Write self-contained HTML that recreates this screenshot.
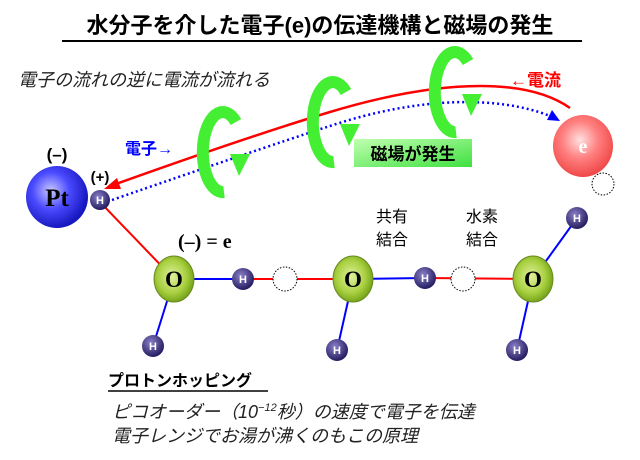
<!DOCTYPE html>
<html><head><meta charset="utf-8"><style>
html,body{margin:0;padding:0;background:#fff;}
svg{display:block;}
text{font-family:"Liberation Sans","Noto Sans CJK JP",sans-serif;}
text.s{font-family:"Liberation Serif","Noto Serif CJK SC",serif;}
</style></head><body>
<svg width="640" height="460" viewBox="0 0 640 460" xmlns="http://www.w3.org/2000/svg">
<defs>
<radialGradient id="pt" cx="0.4" cy="0.4" r="0.6"><stop offset="0" stop-color="#c8c8ff"/><stop offset="0.5" stop-color="#4a4aff"/><stop offset="1" stop-color="#1818c0"/></radialGradient>
<radialGradient id="h" cx="0.4" cy="0.35" r="0.65"><stop offset="0" stop-color="#8a80c8"/><stop offset="1" stop-color="#241c60"/></radialGradient>
<radialGradient id="o" cx="0.45" cy="0.45" r="0.6"><stop offset="0" stop-color="#e0f0a0"/><stop offset="0.6" stop-color="#a8d040"/><stop offset="1" stop-color="#6a9a10"/></radialGradient>
<radialGradient id="e" cx="0.45" cy="0.4" r="0.6"><stop offset="0" stop-color="#ffe0e0"/><stop offset="0.5" stop-color="#ff8080"/><stop offset="1" stop-color="#f04848"/></radialGradient>
<linearGradient id="box" x1="0" y1="0" x2="1" y2="1"><stop offset="0" stop-color="#c0ffb0"/><stop offset="1" stop-color="#40e040"/></linearGradient>
<g id="ring">
<path d="M 12 -30 A 20 40 0 1 0 0 40" fill="none" stroke="#44ee33" stroke-width="12"/>
<polygon points="6,2 26,2 15,24" fill="#44ee33"/>
</g>
</defs>
<text x="320" y="33" font-size="22" font-weight="bold" text-anchor="middle" fill="#000">水分子を介した電子(e)の伝達機構と磁場の発生</text>
<line x1="62" y1="41" x2="582" y2="41" stroke="#000" stroke-width="2"/>
<text x="18" y="86" font-size="18" font-style="italic" fill="#222">電子の流れの逆に電流が流れる</text>
<text x="510" y="86" font-size="17" font-weight="bold" fill="#f00">←電流</text>
<text x="125" y="154" font-size="16" font-weight="bold" fill="#00f">電子→</text>
<!-- current line -->
<path d="M 570 108 C 530 80 450 76 330 112 Q 250 136 116 184" fill="none" stroke="#f00" stroke-width="2.5"/>
<polygon points="104,189 117,178 121,189" fill="#f00"/>
<path d="M 112 200 Q 250 152 330 126 C 420 96 500 96 550 116" fill="none" stroke="#00f" stroke-width="2.5" stroke-dasharray="2,3"/>
<polygon points="560,121 547,120 552,110" fill="#00f"/>
<!-- rings -->
<use href="#ring" x="224" y="152"/>
<use href="#ring" x="334" y="122"/>
<use href="#ring" x="456" y="92"/>
<rect x="354" y="139" width="118" height="28" fill="url(#box)"/>
<text x="413" y="160" font-size="17" font-weight="bold" text-anchor="middle">磁場が発生</text>
<!-- e -->
<ellipse cx="583" cy="146" rx="30" ry="31" fill="url(#e)"/>
<text class="s" x="583" y="153" font-size="20" font-weight="bold" fill="#fff" text-anchor="middle">e</text>
<circle cx="603" cy="184" r="11" fill="none" stroke="#000" stroke-dasharray="1.5,1.5"/>
<!-- bonds -->
<line x1="100" y1="202" x2="174" y2="279" stroke="#f00" stroke-width="2"/>
<line x1="174" y1="279" x2="243" y2="279" stroke="#00f" stroke-width="2"/>
<line x1="243" y1="279" x2="353" y2="279" stroke="#f00" stroke-width="2"/>
<line x1="353" y1="279" x2="425" y2="278" stroke="#00f" stroke-width="2"/>
<line x1="425" y1="278" x2="533" y2="279" stroke="#f00" stroke-width="2"/>
<line x1="174" y1="279" x2="153" y2="346" stroke="#00f" stroke-width="2"/>
<line x1="353" y1="279" x2="337" y2="350" stroke="#00f" stroke-width="2"/>
<line x1="533" y1="279" x2="517" y2="350" stroke="#00f" stroke-width="2"/>
<line x1="533" y1="279" x2="577" y2="218" stroke="#00f" stroke-width="2"/>
<circle cx="285" cy="279" r="12" fill="#fff" stroke="#000" stroke-dasharray="1.5,1.5"/>
<circle cx="463" cy="279" r="12" fill="#fff" stroke="#000" stroke-dasharray="1.5,1.5"/>
<!-- Pt -->
<circle cx="57" cy="197" r="31" fill="url(#pt)"/>
<text class="s" x="57" y="206" font-size="25" font-weight="bold" text-anchor="middle">Pt</text>
<text x="57" y="160" font-size="17" font-weight="bold" text-anchor="middle">(–)</text>
<text x="100" y="182" font-size="15" font-weight="bold" text-anchor="middle">(+)</text>
<!-- O atoms -->
<ellipse cx="174" cy="279" rx="20" ry="23" fill="url(#o)" stroke="#6a8a20"/>
<ellipse cx="353" cy="279" rx="20" ry="23" fill="url(#o)" stroke="#6a8a20"/>
<ellipse cx="533" cy="279" rx="20" ry="23" fill="url(#o)" stroke="#6a8a20"/>
<text class="s" x="174" y="287" font-size="23" font-weight="bold" text-anchor="middle">O</text>
<text class="s" x="353" y="287" font-size="23" font-weight="bold" text-anchor="middle">O</text>
<text class="s" x="533" y="287" font-size="23" font-weight="bold" text-anchor="middle">O</text>
<!-- H atoms -->
<g font-size="11" font-weight="bold" fill="#fff" text-anchor="middle">
<circle cx="100" cy="200" r="10" fill="url(#h)"/><text x="100" y="204" fill="#fff">H</text>
<circle cx="243" cy="279" r="11" fill="url(#h)"/><text x="243" y="283" fill="#fff">H</text>
<circle cx="425" cy="278" r="11" fill="url(#h)"/><text x="425" y="282" fill="#fff">H</text>
<circle cx="153" cy="346" r="11" fill="url(#h)"/><text x="153" y="350" fill="#fff">H</text>
<circle cx="337" cy="350" r="11" fill="url(#h)"/><text x="337" y="354" fill="#fff">H</text>
<circle cx="517" cy="350" r="11" fill="url(#h)"/><text x="517" y="354" fill="#fff">H</text>
<circle cx="577" cy="218" r="11" fill="url(#h)"/><text x="577" y="222" fill="#fff">H</text>
</g>
<text class="s" x="178" y="248" font-size="20" font-weight="bold">(–) = e</text>
<text x="376" y="222" font-size="16">共有</text>
<text x="376" y="245" font-size="16">結合</text>
<text x="466" y="222" font-size="16">水素</text>
<text x="466" y="245" font-size="16">結合</text>
<text x="108" y="386" font-size="16" font-weight="bold">プロトンホッピング</text>
<line x1="108" y1="391" x2="268" y2="391" stroke="#000" stroke-width="1.5"/>
<text x="112" y="418" font-size="18" font-style="italic" fill="#222">ピコオーダー（10<tspan font-size="11" dy="-7">−12</tspan><tspan dy="7">秒）の速度で電子を伝達</tspan></text>
<text x="112" y="442" font-size="18" font-style="italic" fill="#222">電子レンジでお湯が沸くのもこの原理</text>
</svg>
</body></html>
